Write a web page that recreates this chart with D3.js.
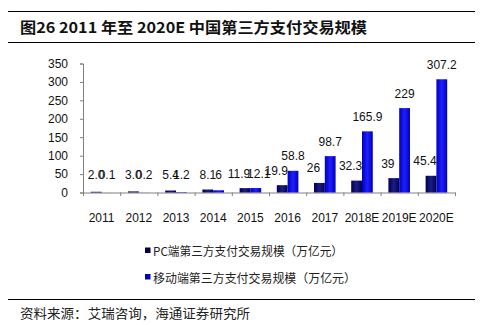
<!DOCTYPE html>
<html><head><meta charset="utf-8">
<script src="https://cdn.jsdelivr.net/npm/d3@7"></script>
<style>body{margin:0;background:#fff}svg{display:block}</style>
</head><body>
<script>
const categories = ["2011","2012","2013","2014","2015","2016","2017","2018E","2019E","2020E"];
const pcValues = [2.0, 3.0, 5.4, 8.1, 11.9, 19.9, 26, 32.3, 39, 45.4];
const pcLabels = ["2.0","3.0","5.4","8.1","11.9","19.9","26","32.3","39","45.4"];
const mobileValues = [0.1, 0.2, 1.2, 6, 12.1, 58.8, 98.7, 165.9, 229, 307.2];
const mobileLabels = ["0.1","0.2","1.2","6","12.1","58.8","98.7","165.9","229","307.2"];
const yTicks = [0,50,100,150,200,250,300,350];
const seriesNames = ["PC端第三方支付交易规模（万亿元）","移动端第三方支付交易规模（万亿元）"];
const title = "图26 2011 年至 2020E 中国第三方支付交易规模";
const source = "资料来源：艾瑞咨询，海通证券研究所";

const W=488,H=325;
const svg=d3.select("body").append("svg").attr("width",W).attr("height",H);
const defs=svg.append("defs");
function grad(id,edge,mid){
  const g=defs.append("linearGradient").attr("id",id).attr("x1","0").attr("x2","1").attr("y1","0").attr("y2","0");
  g.append("stop").attr("offset","0").attr("stop-color",edge);
  g.append("stop").attr("offset","0.5").attr("stop-color",mid);
  g.append("stop").attr("offset","1").attr("stop-color",edge);
}
grad("gPC","#000050","#1c1c86");
grad("gMob","#0000b8","#1e1eff");

const sans="Liberation Sans, Arial, sans-serif";
const cjk="'Noto Sans CJK SC', sans-serif";

// title & rules
svg.append("line").attr("x1",8).attr("x2",475).attr("y1",11.5).attr("y2",11.5).attr("stroke","#000").attr("stroke-width",1);
svg.append("line").attr("x1",8).attr("x2",475).attr("y1",42.5).attr("y2",42.5).attr("stroke","#000").attr("stroke-width",1);
svg.append("text").attr("x",20).attr("y",33).attr("font-family",cjk).attr("font-weight","bold")
  .attr("font-size",15).attr("textLength",347).attr("lengthAdjust","spacingAndGlyphs").attr("fill","#111").text(title);
svg.append("line").attr("x1",8).attr("x2",475).attr("y1",299.5).attr("y2",299.5).attr("stroke","#000").attr("stroke-width",1);
svg.append("text").attr("x",20).attr("y",318).attr("font-family",cjk)
  .attr("font-size",13).attr("textLength",230).attr("lengthAdjust","spacingAndGlyphs").attr("fill","#222").text(source);

// scales
const x=d3.scaleBand().domain(categories).range([83,455]).padding(0);
const y=d3.scaleLinear().domain([0,350]).range([192.5,63.5]);
const bw=x.bandwidth()*0.29;
const off=(x.bandwidth()-2*bw)/2;

// axes
const yAx=svg.append("g").attr("transform","translate(83,0)")
  .call(d3.axisLeft(y).tickValues(yTicks).tickSize(3).tickPadding(12).tickFormat(d3.format("d")));
yAx.select(".domain").attr("stroke","#808080");
yAx.selectAll(".tick line").attr("stroke","#808080");
yAx.selectAll("text").attr("font-family",sans).attr("font-size",12).attr("fill","#111");

const xAx=svg.append("g").attr("transform","translate(0,192.5)")
  .call(d3.axisBottom(x).tickSize(0).tickPadding(21));
xAx.select(".domain").attr("stroke","#808080");
xAx.selectAll("text").attr("font-family",sans).attr("font-size",12).attr("fill","#111");
// boundary tick marks
svg.append("g").selectAll("line").data(categories.concat(["_end"])).join("line")
  .attr("x1",(d,i)=>83+i*x.bandwidth()+0.5).attr("x2",(d,i)=>83+i*x.bandwidth()+0.5)
  .attr("y1",192.5).attr("y2",196).attr("stroke","#808080");

// labels (drawn before bars so taller neighbouring bars occlude them, as in the reference)
const labY=v=>Math.min(y(v)-10.5,179);
svg.append("g").selectAll("text").data(pcValues).join("text")
  .attr("x",(d,i)=>x(categories[i])+off+bw/2-(mobileValues[i]>=d?6:0)).attr("y",d=>labY(d))
  .attr("text-anchor","middle").attr("font-family",sans).attr("font-size",12).attr("fill","#111")
  .text((d,i)=>pcLabels[i]);
svg.append("g").selectAll("text").data(mobileValues).join("text")
  .attr("x",(d,i)=>x(categories[i])+off+bw*1.5+(i===4?3:0)).attr("y",d=>labY(d))
  .attr("text-anchor","middle").attr("font-family",sans).attr("font-size",12).attr("fill","#111")
  .text((d,i)=>mobileLabels[i]);

// bars
svg.append("g").selectAll("rect").data(pcValues).join("rect")
  .attr("x",(d,i)=>x(categories[i])+off).attr("width",bw)
  .attr("y",d=>y(d)).attr("height",d=>y(0)-y(d)).attr("fill","url(#gPC)");
svg.append("g").selectAll("rect").data(mobileValues).join("rect")
  .attr("x",(d,i)=>x(categories[i])+off+bw).attr("width",bw)
  .attr("y",d=>y(d)).attr("height",d=>y(0)-y(d)).attr("fill","url(#gMob)");

// legend
const lg=svg.append("g");
const lc=["#000050","#0000b8"];
seriesNames.forEach((n,i)=>{
  const yy=247.5+i*26.5;
  lg.append("rect").attr("x",145).attr("y",yy).attr("width",5.5).attr("height",5.5).attr("fill",lc[i]);
  lg.append("text").attr("x",153).attr("y",yy+8.5).attr("font-family",cjk).attr("font-size",12)
    .attr("fill","#222").attr("textLength",i===0?190:203).attr("lengthAdjust","spacingAndGlyphs").text(n);
});
</script>
</body></html>
